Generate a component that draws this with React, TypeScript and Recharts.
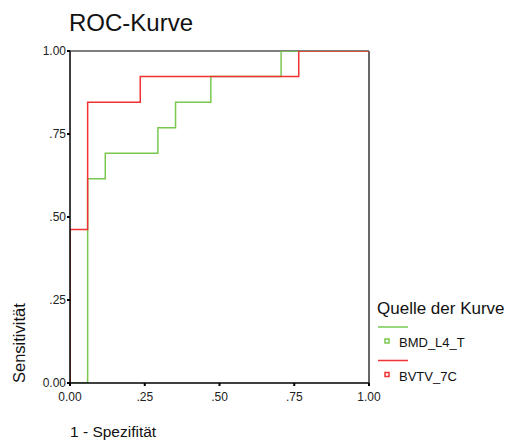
import React from "react";
import { LineChart, Line, XAxis, YAxis, ReferenceLine } from "recharts";

// ROC curve points (1 - specificity, sensitivity)
const bmdFpr = [0, 0.059, 0.118, 0.294, 0.353, 0.471, 0.706, 1];
const bmdTpr = [0, 0.615, 0.692, 0.769, 0.846, 0.923, 1, 1];
const bvtvFpr = [0, 0, 0.059, 0.235, 0.765, 1];
const bvtvTpr = [0, 0.462, 0.846, 0.923, 1, 1];

const tickValues = [0, 0.25, 0.5, 0.75, 1];
const tickLabels = ["0.00", ".25", ".50", ".75", "1.00"];

const seriesNames = ["BMD_L4_T", "BVTV_7C"];
const seriesColors = ["#78c850", "#f03232"];

const title = "ROC-Kurve";
const xTitle = "1 - Spezifität";
const yTitle = "Sensitivität";
const legendTitle = "Quelle der Kurve";

const bmdData = bmdFpr.map((x, i) => ({ x, y: bmdTpr[i] }));
const bvtvData = bvtvFpr.map((x, i) => ({ x, y: bvtvTpr[i] }));

const FONT = "'Liberation Sans', Arial, sans-serif";
const fmt = (v: number) => tickLabels[tickValues.indexOf(v)] ?? String(v);

export default function App() {
  return (
    <div style={{ position: "absolute", left: 0, top: 0, width: 507, height: 448, background: "#fff", fontFamily: FONT }}>
      <LineChart width={507} height={448} margin={{ top: 51, right: 138, bottom: 0, left: 0 }}>
        <XAxis
          dataKey="x"
          type="number"
          domain={[0, 1]}
          ticks={tickValues}
          tickFormatter={fmt}
          height={65}
          allowDataOverflow
          stroke="#000"
          strokeWidth={1.5}
          tickSize={3}
          tickMargin={6}
          tick={{ fill: "#222", fontSize: 12, fontFamily: FONT }}
          tickLine={{ stroke: "#000", strokeWidth: 2 }}
        />
        <YAxis
          dataKey="y"
          type="number"
          domain={[0, 1]}
          ticks={tickValues}
          tickFormatter={fmt}
          width={70}
          allowDataOverflow
          stroke="#000"
          strokeWidth={1.5}
          tickSize={3}
          tickMargin={1}
          tick={{ fill: "#222", fontSize: 12, fontFamily: FONT }}
          tickLine={{ stroke: "#000", strokeWidth: 2 }}
        />
        <ReferenceLine y={1} stroke="#000" strokeWidth={1.2} />
        <ReferenceLine x={1} stroke="#000" strokeWidth={1.2} />
        <Line
          data={bmdData}
          dataKey="y"
          type="stepAfter"
          stroke={seriesColors[0]}
          strokeWidth={1.5}
          dot={false}
          isAnimationActive={false}
        />
        <Line
          data={bvtvData}
          dataKey="y"
          type="stepAfter"
          stroke={seriesColors[1]}
          strokeWidth={1.5}
          dot={false}
          isAnimationActive={false}
        />
      </LineChart>
      <svg
        width={507}
        height={448}
        style={{ position: "absolute", left: 0, top: 0, pointerEvents: "none" }}
      >
        <text x={69} y={31} fontSize={24} fill="#111" fontFamily={FONT}>
          {title}
        </text>
        <text
          x={25}
          y={383}
          fontSize={16.5}
          fill="#111"
          fontFamily={FONT}
          transform="rotate(-90 25 383)"
        >
          {yTitle}
        </text>
        <text x={70} y={437} fontSize={15.5} fill="#111" fontFamily={FONT}>
          {xTitle}
        </text>
        <text x={377} y={314} fontSize={17} fill="#111" fontFamily={FONT}>
          {legendTitle}
        </text>
        {seriesNames.map((name, i) => {
          const base = 327 + i * 33.5;
          return (
            <g key={name}>
              <line x1={378} x2={408} y1={base} y2={base} stroke={seriesColors[i]} strokeWidth={1.5} />
              <rect x={385} y={base + 12} width={4} height={4} fill="none" stroke={seriesColors[i]} strokeWidth={1.5} />
              <text x={399} y={base + 20} fontSize={13} fill="#111" fontFamily={FONT}>
                {name}
              </text>
            </g>
          );
        })}
      </svg>
    </div>
  );
}
